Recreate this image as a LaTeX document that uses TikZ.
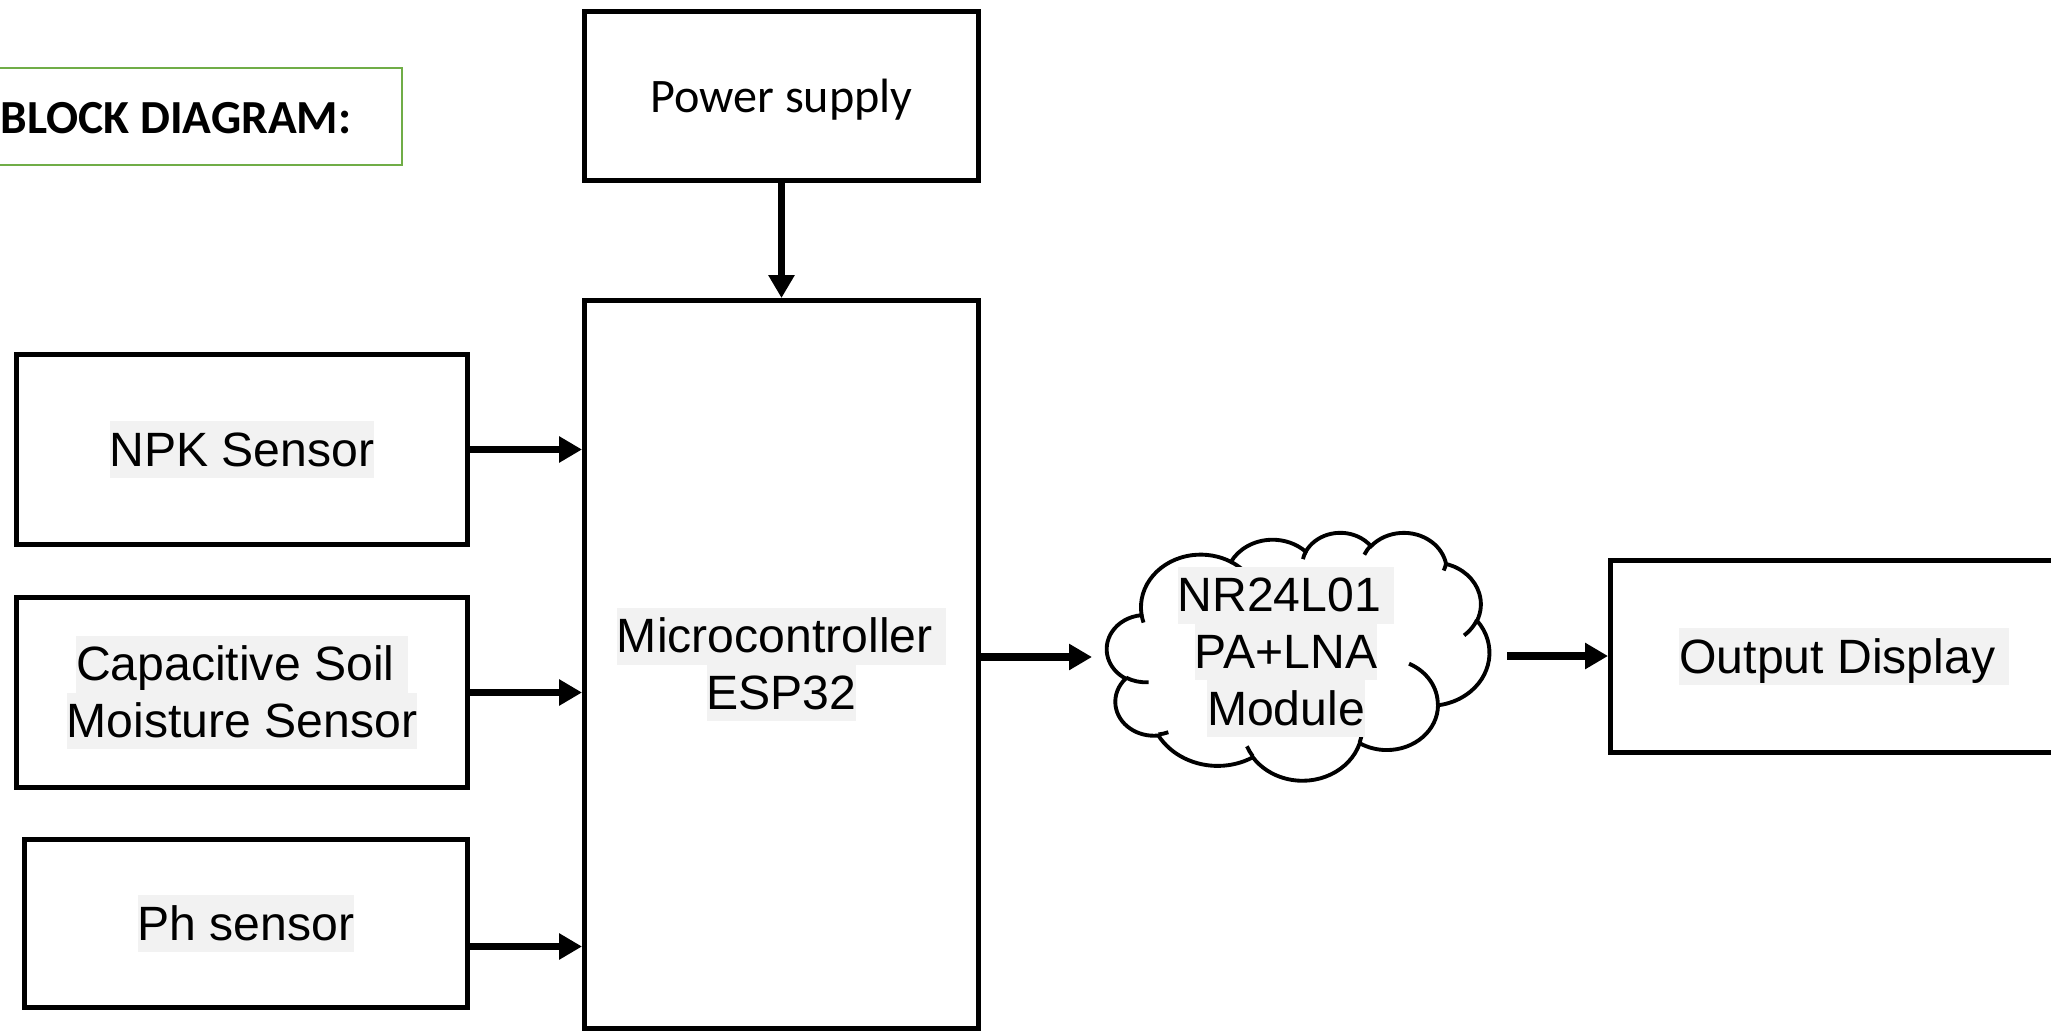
\documentclass[tikz,border=0pt]{standalone}
\usepackage{fontspec}
\setmainfont{Liberation Sans}
\newfontfamily\calibri{Carlito}
\usetikzlibrary{arrows.meta}
\definecolor{hlgray}{HTML}{F2F2F2}
\definecolor{titlegreen}{HTML}{70AD47}
\newcommand{\hlstrut}{\rule[-3.4pt]{0pt}{16.2pt}}
\newcommand{\hlbox}[1]{{\setlength{\fboxsep}{0pt}\colorbox{hlgray}{\hlstrut #1}}}
% elliptic arc: x radius, y radius, start angle, sweep (angles taken along the ray)
\newcommand{\cloudarc}[4]{arc[x radius=#1, y radius=#2,
  start angle={atan2(#1*sin(#3),#2*cos(#3))},
  delta angle={mod(atan2(#1*sin(#3+#4),#2*cos(#3+#4))-atan2(#1*sin(#3),#2*cos(#3))+720,360)}]}

\begin{document}
\begin{tikzpicture}[
    block/.style={draw, line width=1.4pt, align=center, inner sep=0pt, font=\fontsize{13.7}{16.2}\selectfont},
    flow/.style={line width=2.2pt, -{Triangle[length=0.23cm, width=0.25cm]}},
  ]
    \useasboundingbox (0,0) rectangle (20.51,-10.33);
    %%% Title
    \node[draw=titlegreen, line width=0.8pt, minimum width=4.32cm, minimum height=0.97cm] (titlebox) at (1.86,-1.165) {};
    \node[anchor=west, inner sep=0pt, font=\calibri\bfseries\fontsize{13.5}{16}\selectfont] (title) at (0,-1.18) {BLOCK DIAGRAM:};
    %%% Supply and controller
    \node[block, minimum width=3.94cm, minimum height=1.69cm, font=\calibri\fontsize{13.7}{16.2}\selectfont] (power) at (7.815,-0.96) {\hlstrut Power supply};
    \node[block, minimum width=3.94cm, minimum height=7.28cm] (micro) at (7.815,-6.645) {\hlbox{Microcontroller\ }\\\hlbox{ESP32}};
    %%% Sensors
    \node[block, minimum width=4.51cm, minimum height=1.90cm] (npk) at (2.42,-4.495) {\hlbox{NPK Sensor}};
    \node[block, minimum width=4.51cm, minimum height=1.90cm] (cap) at (2.42,-6.925) {\hlbox{Capacitive Soil\ }\\\hlbox{Moisture Sensor}};
    \node[block, minimum width=4.43cm, minimum height=1.68cm] (ph) at (2.46,-9.235) {\hlbox{Ph sensor}};
    %%% Radio cloud
    \node[inner sep=0pt, outer sep=0pt, minimum width=3.82cm, minimum height=2.48cm] (radio) at (12.98,-6.56) {};
    \begin{scope}[shift={(radio.north west)}, x={(0.0088426cm,0)}, y={(0,-0.0057407cm)}, line width=1.1pt]
      \filldraw[fill=white] (39.00,143.70)
        \cloudarc{67.53}{91.90}{-190.487}{123.781}
        \cloudarc{53.33}{72.67}{-144.102}{89.945}
        \cloudarc{43.65}{59.45}{-145.808}{99.723}
        \cloudarc{48.57}{65.95}{-130.986}{117.242}
        \cloudarc{53.33}{72.73}{-78.709}{109.027}
        \cloudarc{67.75}{92.20}{-46.267}{130.269}
        \cloudarc{57.85}{78.67}{0.625}{114.033}
        \cloudarc{67.52}{92.15}{22.452}{115.173}
        \cloudarc{77.20}{105.43}{66.243}{75.711}
        \cloudarc{43.60}{59.18}{-274.942}{146.736}
        \cloudarc{43.45}{59.45}{-246.829}{152.523}
        -- cycle;
      % inner curls
      \draw (46.93,261.77) \cloudarc{43.45}{59.45}{86.742}{26.430};
      \draw (69.28,348.99) \cloudarc{43.60}{59.18}{73.610}{11.447};
      \draw (164.78,390.90) \cloudarc{67.52}{92.15}{137.624}{14.081};
      \draw (288.27,347.51) \cloudarc{67.52}{92.15}{6.453}{15.998};
      \draw (341.29,229.54) \cloudarc{57.85}{78.67}{-70.292}{70.917};
      \draw (417.98,153.54) \cloudarc{53.33}{72.73}{30.318}{27.752};
      \draw (383.24,54.26) \cloudarc{48.57}{65.95}{13.744}{14.859};
      \draw (290.78,39.52) \cloudarc{48.57}{65.95}{-149.181}{18.195};
      \draw (221.41,47.20) \cloudarc{43.65}{59.45}{-163.494}{17.686};
      \draw (140.00,51.92) \cloudarc{67.53}{91.90}{-66.707}{12.319};
      \draw (41.27,157.89) \cloudarc{67.53}{91.90}{157.654}{11.858};
    \end{scope}
    \node[align=center, inner sep=0pt, font=\fontsize{13.7}{16.2}\selectfont] (radiotext) at (12.86,-6.52) {\hlbox{NR24L01\ }\\\hlbox{PA+LNA}\\\hlbox{Module}};
    %%% Display
    \node[block, minimum width=4.67cm, minimum height=1.92cm] (output) at (18.44,-6.565) {\hlbox{Output Display\ }};
    %%% Arrows
    \draw[flow] (power) -- (micro);
    \draw[flow] (npk.east) -- (npk.east -| micro.west);
    \draw[flow] (cap.east) -- (cap.east -| micro.west);
    \draw[flow] ([yshift=-0.23cm]ph.east) -- ([yshift=-0.23cm]ph.east -| micro.west);
    \draw[flow, shorten >=0.15cm] ([yshift=0.075cm]micro.east) -- ([yshift=0.075cm]micro.east -| radio.west);
    \draw[flow, shorten <=0.18cm] (radio.east) -- (radio.east -| output.west);
\end{tikzpicture}
\end{document}
